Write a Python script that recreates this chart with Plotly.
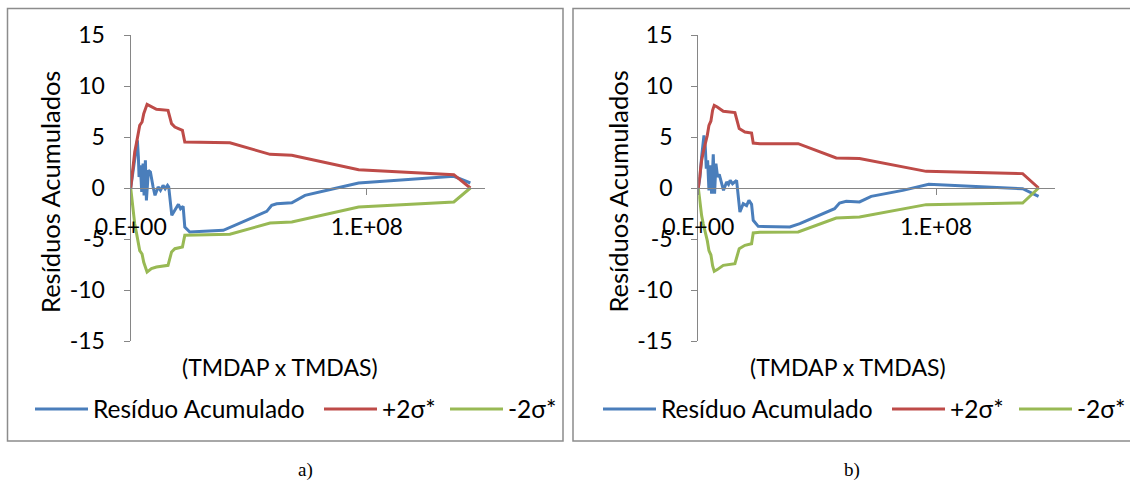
import plotly.graph_objects as go

W, H = 1130, 487

# ---------------- data: panel a) ----------------
a_res_x = [0, 0.99e6, 1.70e6, 2.40e6, 2.83e6, 3.25e6, 3.54e6, 4.10e6, 4.67e6, 5.23e6, 5.66e6, 6.22e6,
           6.65e6, 7.50e6, 8.35e6, 9.48e6, 10.3e6, 11.6e6, 12.6e6, 13.7e6, 14.6e6, 15.6e6, 16.1e6,
           17.4e6, 18.7e6, 20.2e6, 21.1e6, 22.2e6, 22.9e6, 25.0e6, 39.2e6, 57.6e6, 59.7e6, 61.8e6,
           68.2e6, 73.8e6, 85.9e6, 96.5e6, 136.8e6, 143.8e6]
a_res_y = [0, 1.73, 3.04, 4.35, 4.67, 3.04, 1.08, 2.22, -0.39, 2.39, -0.72, 2.71,
           -1.21, 1.73, 1.57, 0.10, -0.72, 0.10, -0.23, 0.26, -0.07, 0.26, 0.10,
           -2.68, -2.19, -1.60, -2.03, -1.80, -3.82, -4.31, -4.15, -2.29, -1.70, -1.54,
           -1.44, -0.72, -0.07, 0.49, 1.14, 0.49]

a_sig_x = [0, 0.99e6, 1.70e6, 2.40e6, 3.11e6, 3.82e6, 4.81e6, 5.52e6, 6.93e6, 8.77e6, 10.9e6,
           15.8e6, 17.3e6, 18.7e6, 21.9e6, 22.9e6, 42.0e6, 59.0e6, 68.2e6, 96.5e6, 136.8e6, 143.8e6]
a_up_y = [0, 2.39, 3.53, 4.35, 5.33, 6.14, 6.47, 7.29, 8.20, 7.94, 7.71,
          7.61, 6.31, 5.98, 5.65, 4.51, 4.44, 3.30, 3.20, 1.80, 1.31, 0]
a_lo_y = [0, -2.39, -3.53, -4.35, -5.33, -6.14, -6.47, -7.29, -8.24, -7.90, -7.75,
          -7.58, -6.27, -5.95, -5.78, -4.64, -4.54, -3.43, -3.33, -1.86, -1.37, 0]

# ---------------- data: panel b) ----------------
b_res_x = [0, 0.70e6, 1.40e6, 1.82e6, 2.38e6, 2.94e6, 3.36e6, 3.92e6, 4.48e6, 5.03e6, 5.59e6, 6.29e6,
           6.85e6, 7.41e6, 8.11e6, 8.81e6, 9.79e6, 10.6e6, 11.9e6, 12.7e6, 13.4e6, 14.4e6, 16.1e6,
           17.5e6, 18.9e6, 20.3e6, 21.3e6, 22.4e6, 23.1e6, 25.2e6, 38.5e6, 42.7e6, 57.3e6, 59.4e6,
           62.2e6, 67.8e6, 72.7e6, 86.0e6, 96.9e6, 136.4e6, 143.1e6]
b_res_y = [0, 1.08, 3.04, 4.02, 5.16, 4.02, 1.90, 2.71, -0.23, 2.22, -0.56, 3.30,
           -0.56, 2.39, 1.08, 1.34, 0.42, -0.23, 0.59, 0.36, 0.75, 0.42, 0.75,
           -2.35, -1.54, -1.73, -1.21, -1.60, -3.17, -3.76, -3.82, -3.50, -2.03, -1.47,
           -1.31, -1.37, -0.82, -0.23, 0.36, -0.07, -0.82]

b_sig_x = [0, 0.70e6, 1.40e6, 2.10e6, 2.80e6, 3.78e6, 4.48e6, 5.31e6, 6.01e6, 6.71e6, 7.97e6,
           10.5e6, 15.4e6, 17.2e6, 19.6e6, 22.4e6, 23.1e6, 25.9e6, 42.0e6, 58.0e6, 67.8e6,
           95.8e6, 136.4e6, 143.1e6]
b_up_y = [0, 1.73, 2.71, 3.53, 4.18, 5.16, 6.14, 6.57, 7.61, 8.10, 7.94,
          7.52, 7.39, 5.82, 5.49, 5.39, 4.41, 4.35, 4.35, 2.94, 2.88,
          1.63, 1.41, 0]
b_lo_y = [0, -1.73, -2.71, -3.53, -4.18, -5.16, -6.14, -6.57, -7.61, -8.17, -8.00,
          -7.58, -7.42, -5.95, -5.62, -5.46, -4.41, -4.35, -4.31, -2.94, -2.84,
          -1.63, -1.47, 0]

x_tickvals = [0, 1e8]
x_ticktext = ["0.E+00", "1.E+08"]
y_tickvals = [-15, -10, -5, 0, 5, 10, 15]
y_ticktext = ["-15", "-10", "-5", "0", "5", "10", "15"]
names = ["Resíduo Acumulado", "+2σ*", "-2σ*"]
colors = ["#4A7EBB", "#BE4B48", "#98B954"]

FONT = "Lato"
FS = 23
GRAY = "#868686"

def px(x):
    return x / W

def py(y):
    return (H - y) / H

fig = go.Figure()

# legend line start positions (pixels) for each panel's three entries
legend_starts = [[35, 324, 450], [603, 892, 1019]]

panels = [
    ("x", "y", a_res_x, a_res_y, a_sig_x, a_up_y, a_lo_y),
    ("x2", "y2", b_res_x, b_res_y, b_sig_x, b_up_y, b_lo_y),
]
legend_layout = {}
k = 0
for p, (xa, ya, rx, ry, sx, uy, ly) in enumerate(panels):
    for i, (nm, col, xs, ys) in enumerate([(names[0], colors[0], rx, ry),
                                           (names[1], colors[1], sx, uy),
                                           (names[2], colors[2], sx, ly)]):
        k += 1
        lg = "legend" if k == 1 else f"legend{k}"
        fig.add_trace(go.Scatter(x=xs, y=ys, mode="lines", name=nm, xaxis=xa, yaxis=ya,
                                 legend=lg, line=dict(color=col, width=3)))
        legend_layout[lg] = dict(orientation="h", x=px(legend_starts[p][i] - 5), y=py(409),
                                 xanchor="left", yanchor="middle", itemwidth=53,
                                 font=dict(family=FONT, size=24.5),
                                 bgcolor="rgba(0,0,0,0)")

ydom = [py(341), py(35)]
zero_pos = py(187.7)

xaxis_common = dict(range=[0, 1.5e8], tickvals=x_tickvals, ticktext=x_ticktext,
                    showline=True, linecolor=GRAY, linewidth=1.3, ticks="outside",
                    tickcolor=GRAY, ticklen=6, showgrid=False, zeroline=False,
                    anchor="free", position=zero_pos, ticklabelstandoff=13, automargin=False,
                    tickfont=dict(family=FONT, size=FS, color="black"))
yaxis_common = dict(range=[-15, 15], tickvals=y_tickvals, ticktext=y_ticktext, showline=True,
                    linecolor=GRAY, linewidth=1.3, ticks="outside", tickcolor=GRAY, ticklen=6,
                    showgrid=False, zeroline=False, domain=ydom, ticklabelstandoff=14,
                    automargin=False, tickfont=dict(family=FONT, size=FS, color="black"))

fig.update_layout(
    template="none",
    width=W, height=H, margin=dict(l=0, r=0, t=0, b=0, pad=0, autoexpand=False),
    paper_bgcolor="white", plot_bgcolor="white",
    font=dict(family=FONT, size=FS, color="black"),
    xaxis=dict(domain=[px(130.7), px(485)], **xaxis_common),
    yaxis=dict(anchor="x", **yaxis_common),
    xaxis2=dict(domain=[px(698.3), px(1055)], **xaxis_common),
    yaxis2=dict(anchor="x2", **yaxis_common),
    showlegend=True,
    **legend_layout,
)

# panel frames
for x0, x1 in [(7.5, 563), (573, 1140)]:
    fig.add_shape(type="rect", xref="paper", yref="paper", x0=px(x0), x1=px(x1),
                  y0=py(441), y1=py(8.5), line=dict(color="#8C8C8C", width=1.5),
                  fillcolor="rgba(0,0,0,0)", layer="below")

# titles and captions
for off, cap, capx in [(0, "a)", 305), (567.6, "b)", 852)]:
    fig.add_annotation(text="Resíduos Acumulados", x=px(50 + off), y=py(192), xref="paper",
                       yref="paper", textangle=-90, showarrow=False,
                       font=dict(family=FONT, size=25.5), xanchor="center", yanchor="middle")
    fig.add_annotation(text="(TMDAP x TMDAS)", x=px(280 + off), y=py(367), xref="paper",
                       yref="paper", showarrow=False, font=dict(family=FONT, size=FS),
                       xanchor="center", yanchor="middle")
    fig.add_annotation(text=cap, x=px(capx), y=py(470), xref="paper", yref="paper",
                       showarrow=False, font=dict(family="Liberation Serif", size=19),
                       xanchor="center", yanchor="middle")

fig.write_html("out.html")
